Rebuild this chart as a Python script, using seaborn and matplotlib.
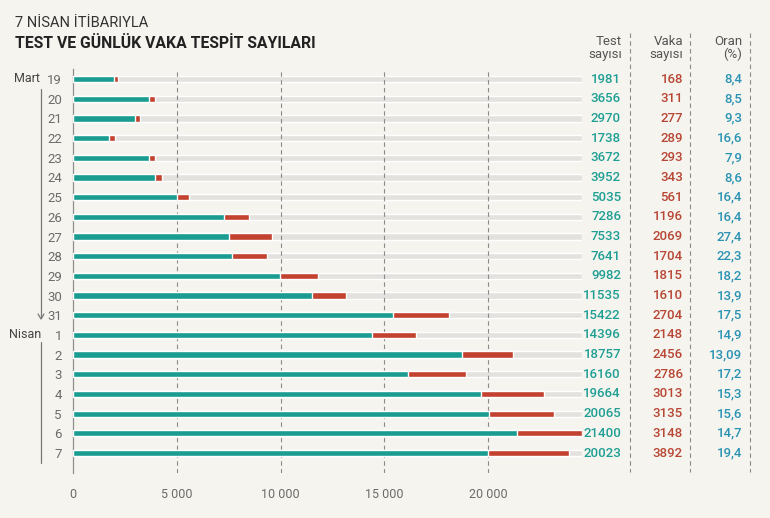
import pandas as pd
import seaborn as sns
import matplotlib.pyplot as plt
from matplotlib import transforms

# Veriler
gunler = ["19", "20", "21", "22", "23", "24", "25", "26", "27", "28", "29", "30", "31",
          "1", "2", "3", "4", "5", "6", "7"]
test_sayisi = [1981, 3656, 2970, 1738, 3672, 3952, 5035, 7286, 7533, 7641, 9982, 11535,
               15422, 14396, 18757, 16160, 19664, 20065, 21400, 20023]
vaka_sayisi = [168, 311, 277, 289, 293, 343, 561, 1196, 2069, 1704, 1815, 1610,
               2704, 2148, 2456, 2786, 3013, 3135, 3148, 3892]
oran = ["8,4", "8,5", "9,3", "16,6", "7,9", "8,6", "16,4", "16,4", "27,4", "22,3", "18,2",
        "13,9", "17,5", "14,9", "13,09", "17,2", "15,3", "15,6", "14,7", "19,4"]
x_ticks = [0, 5000, 10000, 15000, 20000]
x_tick_labels = ["0", "5 000", "10 000", "15 000", "20 000"]

df = pd.DataFrame({"Gun": gunler, "Test": test_sayisi, "Vaka": vaka_sayisi})
df["Toplam"] = df["Test"] + df["Vaka"]
df["Arka"] = df["Toplam"].max()

bg = "#f6f4ef"
teal = "#1a9c91"
kirmizi = "#c2412f"
gri = "#e4e2de"

sns.set_theme(style="white")
plt.rcParams["font.family"] = ["Roboto", "DejaVu Sans"]

W, H = 770, 518
fig = plt.figure(figsize=(W / 100, H / 100), dpi=100, facecolor=bg)
xmax = df["Toplam"].max()
px_per_unit = 103.75 / 5000
left_px, top_px, bot_px = 73, 69.2, 472.7
right_px = left_px + xmax * px_per_unit
ax = fig.add_axes([left_px / W, 1 - bot_px / H, (right_px - left_px) / W, (bot_px - top_px) / H])
ax.set_facecolor(bg)

sns.barplot(data=df, y="Gun", x="Arka", orient="h", color=gri, width=0.32,
            saturation=1, ax=ax, zorder=0.2)
sns.barplot(data=df, y="Gun", x="Toplam", orient="h", color=kirmizi, width=0.32,
            saturation=1, ax=ax, zorder=2)
sns.barplot(data=df, y="Gun", x="Test", orient="h", color=teal, width=0.32,
            saturation=1, ax=ax, zorder=3)

ax.set_xlim(0, xmax)
ax.set_ylim(20.0, -0.5)
ax.grid(False)
for v in x_ticks[1:]:
    ax.axvline(v, color="#8a8a8a", lw=0.8, ls=(0, (4, 3)), zorder=0.5)
for s in ["top", "right", "bottom"]:
    ax.spines[s].set_visible(False)
ax.spines["left"].set_color("#8f8f8f")
ax.spines["left"].set_linewidth(0.9)
ax.set_xticks(x_ticks)
ax.set_xticklabels(x_tick_labels, fontsize=9, color="#6b6b6b")
ax.tick_params(axis="x", length=0, pad=11)
ax.tick_params(axis="y", length=0, pad=8, labelsize=9.5, labelcolor="#6b6b6b")
ax.set_xlabel("")
ax.set_ylabel("")

# Sağdaki sütunlar
tr = transforms.blended_transform_factory(fig.transFigure, ax.transData)
for i in range(len(gunler)):
    ax.text(621 / W, i, str(test_sayisi[i]), transform=tr, ha="right", va="center",
            fontsize=9.5, color="#1f9f94", fontweight="medium")
    ax.text(683 / W, i, str(vaka_sayisi[i]), transform=tr, ha="right", va="center",
            fontsize=9.5, color="#b84634", fontweight="medium")
    ax.text(742 / W, i, oran[i], transform=tr, ha="right", va="center",
            fontsize=9.5, color="#2a93b3", fontweight="medium")

for xp in [630, 690, 750]:
    fig.add_artist(plt.Line2D([xp / W, xp / W], [1 - 33 / H, 1 - 472 / H],
                              color="#8a8a8a", lw=0.8, ls=(0, (4, 3))))

for xp, txt in [(622, "Test\nsayısı"), (683, "Vaka\nsayısı"), (742, "Oran\n(%)")]:
    fig.text(xp / W, 1 - 48 / H, txt, ha="right", va="center", fontsize=9.5,
             color="#555555", linespacing=1.05)

# Başlık
fig.text(15 / W, 1 - 23 / H, "7 NİSAN İTİBARIYLA", fontsize=10.5, color="#333333",
         fontweight="normal", va="center")
fig.text(15 / W, 1 - 43 / H, "TEST VE GÜNLÜK VAKA TESPİT SAYILARI", fontsize=11.3,
         color="#222222", fontweight="bold", va="center")

# Ay etiketleri
fig.text(40 / W, 1 - 79 / H, "Mart", ha="right", va="center", fontsize=9, color="#444444")
fig.text(41 / W, 1 - 335 / H, "Nisan", ha="right", va="center", fontsize=9, color="#444444")
fig.add_artist(plt.Line2D([41 / W, 41 / W], [1 - 89 / H, 1 - 318 / H], color="#777777", lw=0.9))
fig.add_artist(plt.Line2D([38 / W, 41 / W, 44 / W], [1 - 314 / H, 1 - 319 / H, 1 - 314 / H],
                          color="#777777", lw=0.9))
fig.add_artist(plt.Line2D([41 / W, 41 / W], [1 - 342 / H, 1 - 463 / H], color="#777777", lw=0.9))

fig.savefig("out.png", dpi=100, facecolor=bg)
